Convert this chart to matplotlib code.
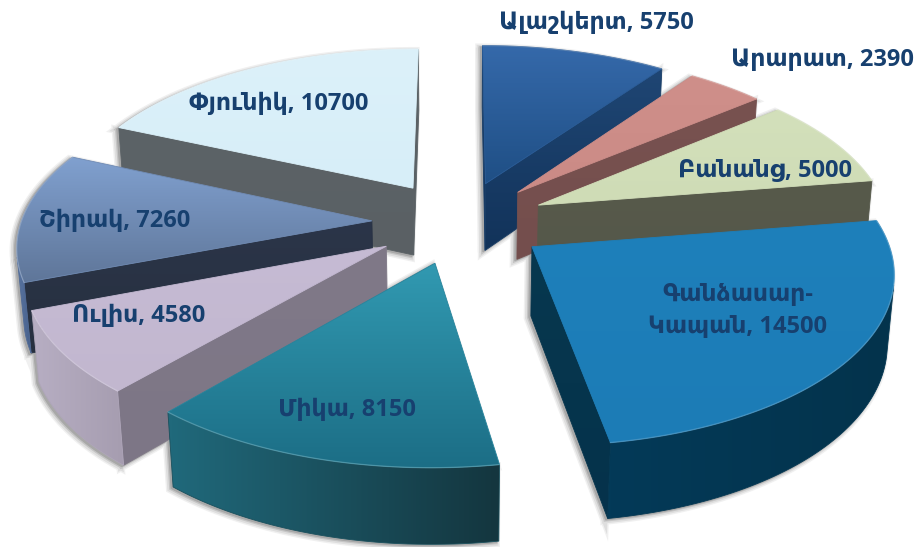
import numpy as np
import matplotlib
matplotlib.use("Agg")
import matplotlib.pyplot as plt
from matplotlib.colors import to_rgb, LinearSegmentedColormap
from matplotlib.patches import Polygon

names = ["Ալաշկերտ", "Արարատ", "Բանանց", "Գանձասար-\nԿապան", "Միկա", "Ուլիս", "Շիրակ", "Փյունիկ"]
values = [5750, 2390, 5000, 14500, 8150, 4580, 7260, 10700]

# top gradient (top to bottom), cut face gradient, outer wall gradient (left to right)
top_colors = [("#3569aa", "#1f4f85"), ("#cf8f8a", "#cb8b86"), ("#d3e0bb", "#cfdcb6"), ("#1e80bb", "#1c7cb6"),
              ("#3199b1", "#1c6e86"), ("#c6bbd4", "#c2b7cf"), ("#80a0cf", "#5f7699"), ("#dcf1fa", "#d7eef8")]
cut_colors = [("#1f4674", "#12335a"), ("#785250", "#744e4d"), ("#575a4b", "#55574a"), ("#07384f", "#05324b"),
              ("#1d6475", "#15363f"), ("#807988", "#7d7686"), ("#2b3549", "#27303f"), ("#5c6367", "#5a6064")]
wall_colors = [("#1f4674", "#12335a"), ("#785250", "#744e4d"), ("#575a4b", "#55574a"), ("#033a58", "#04334c"),
               ("#20697b", "#14363f"), ("#b7aec3", "#a69db0"), ("#5a75a2", "#47618c"), ("#5c6367", "#5a6064")]
label_xy = [(596, 23), (822, 60), (765, 171), (738, 311), (347, 410), (139, 316), (115, 221), (279, 104)]
draw_order = [0, 7, 1, 2, 6, 5, 3, 4]

# camera for the fake 3d pie
CX, CY = 459.5, 222
F, D = 2350, 6.7
ELEV = np.radians(28.2)
DEPTH = 0.224
EXPLODE = 0.25
cam = np.array([0, -D * np.cos(ELEV), D * np.sin(ELEV)])


def project(x, y, z):
    w = D + y * np.cos(ELEV) - z * np.sin(ELEV)
    up = y * np.sin(ELEV) + z * np.cos(ELEV)
    return np.column_stack([CX + F * x / w, CY - F * up / w])


def gradient_fill(ax, verts, c1, c2, z, horizontal=False):
    cmap = LinearSegmentedColormap.from_list("g", [to_rgb(c1), to_rgb(c2)])
    grad = np.linspace(0, 1, 64)
    grad = grad[None, :] if horizontal else grad[:, None]
    x0, y0 = verts.min(axis=0)
    x1, y1 = verts.max(axis=0)
    im = ax.imshow(grad, cmap=cmap, extent=(x0, x1, y1, y0), aspect="auto", zorder=z, interpolation="bilinear")
    im.set_clip_path(Polygon(verts, closed=True, transform=ax.transData))
    mid = tuple((np.array(to_rgb(c1)) + np.array(to_rgb(c2))) / 2)
    ax.add_patch(Polygon(verts, closed=True, fill=False, edgecolor=mid, lw=0.6, zorder=z + 0.1))


fracs = np.array(values) / sum(values)
edges = np.concatenate([[0], np.cumsum(fracs)]) * 2 * np.pi


def slice_faces(i):
    a0, a1 = edges[i], edges[i + 1]
    mid = (a0 + a1) / 2
    ox, oy = EXPLODE * np.sin(mid), EXPLODE * np.cos(mid)
    t = np.linspace(a0, a1, 80)
    rim_x, rim_y = ox + np.sin(t), oy + np.cos(t)
    arc_top = project(rim_x, rim_y, 0 * t)
    arc_bot = project(rim_x, rim_y, 0 * t - DEPTH)
    apex_top = project(np.array([ox]), np.array([oy]), np.array([0.0]))
    apex_bot = project(np.array([ox]), np.array([oy]), np.array([-DEPTH]))
    faces = {"top": np.vstack([apex_top, arc_top]), "arc_top": arc_top, "wall": None, "cuts": []}

    # part of the rim that faces the camera
    normals = np.column_stack([np.sin(t), np.cos(t), 0 * t])
    pts = np.column_stack([rim_x, rim_y, 0 * t])
    vis = np.sum((cam - pts) * normals, axis=1) > 0
    if vis.any():
        faces["wall"] = np.vstack([arc_top[vis], arc_bot[vis][::-1]])

    p = np.array([ox, oy, 0])
    n0 = np.array([-np.cos(a0), np.sin(a0), 0])
    n1 = np.array([np.cos(a1), -np.sin(a1), 0])
    if np.dot(cam - p, n0) > 0:
        faces["cuts"].append(np.vstack([apex_top, arc_top[0], arc_bot[0], apex_bot]))
    if np.dot(cam - p, n1) > 0:
        faces["cuts"].append(np.vstack([apex_top, arc_top[-1], arc_bot[-1], apex_bot]))
    return faces


fig = plt.figure(figsize=(9.18, 5.47), dpi=100)
ax = fig.add_axes([0, 0, 1, 1])

all_faces = {i: slice_faces(i) for i in range(len(values))}

# soft shadow on the white only, so it goes under every slice
for lw, col, off in [(6, "#f0f0f0", 3), (4, "#dedede", 3), (2, "#c4c4c4", 2.5), (0.8, "#a8a8a8", 2)]:
    for i in draw_order:
        f = all_faces[i]
        polys = [f["top"]] + f["cuts"]
        if f["wall"] is not None:
            polys.append(f["wall"])
        for poly in polys:
            ax.add_patch(Polygon(poly + [-off, off * 0.7], closed=True, facecolor=col, edgecolor=col, lw=lw, zorder=1))

z = 2
for i in draw_order:
    f = all_faces[i]
    for cut in f["cuts"]:
        gradient_fill(ax, cut, cut_colors[i][0], cut_colors[i][1], z)
        z += 1
    if f["wall"] is not None:
        gradient_fill(ax, f["wall"], wall_colors[i][0], wall_colors[i][1], z, horizontal=True)
        z += 1
    gradient_fill(ax, f["top"], top_colors[i][0], top_colors[i][1], z)
    z += 1
    ax.plot(f["arc_top"][:, 0], f["arc_top"][:, 1], color="white", alpha=0.18, lw=1.0, zorder=z)
    z += 1

for name, val, (tx, ty) in zip(names, values, label_xy):
    ax.text(tx, ty, f"{name}, {val}", ha="center", va="center", fontsize=17, fontweight="bold",
            color="#17406f", family=["Open Sans", "DejaVu Sans"], zorder=z, linespacing=1.4)

ax.set_xlim(0, 918)
ax.set_ylim(547, 0)
ax.axis("off")
fig.savefig("out.png", dpi=100, facecolor="white")
plt.close(fig)
